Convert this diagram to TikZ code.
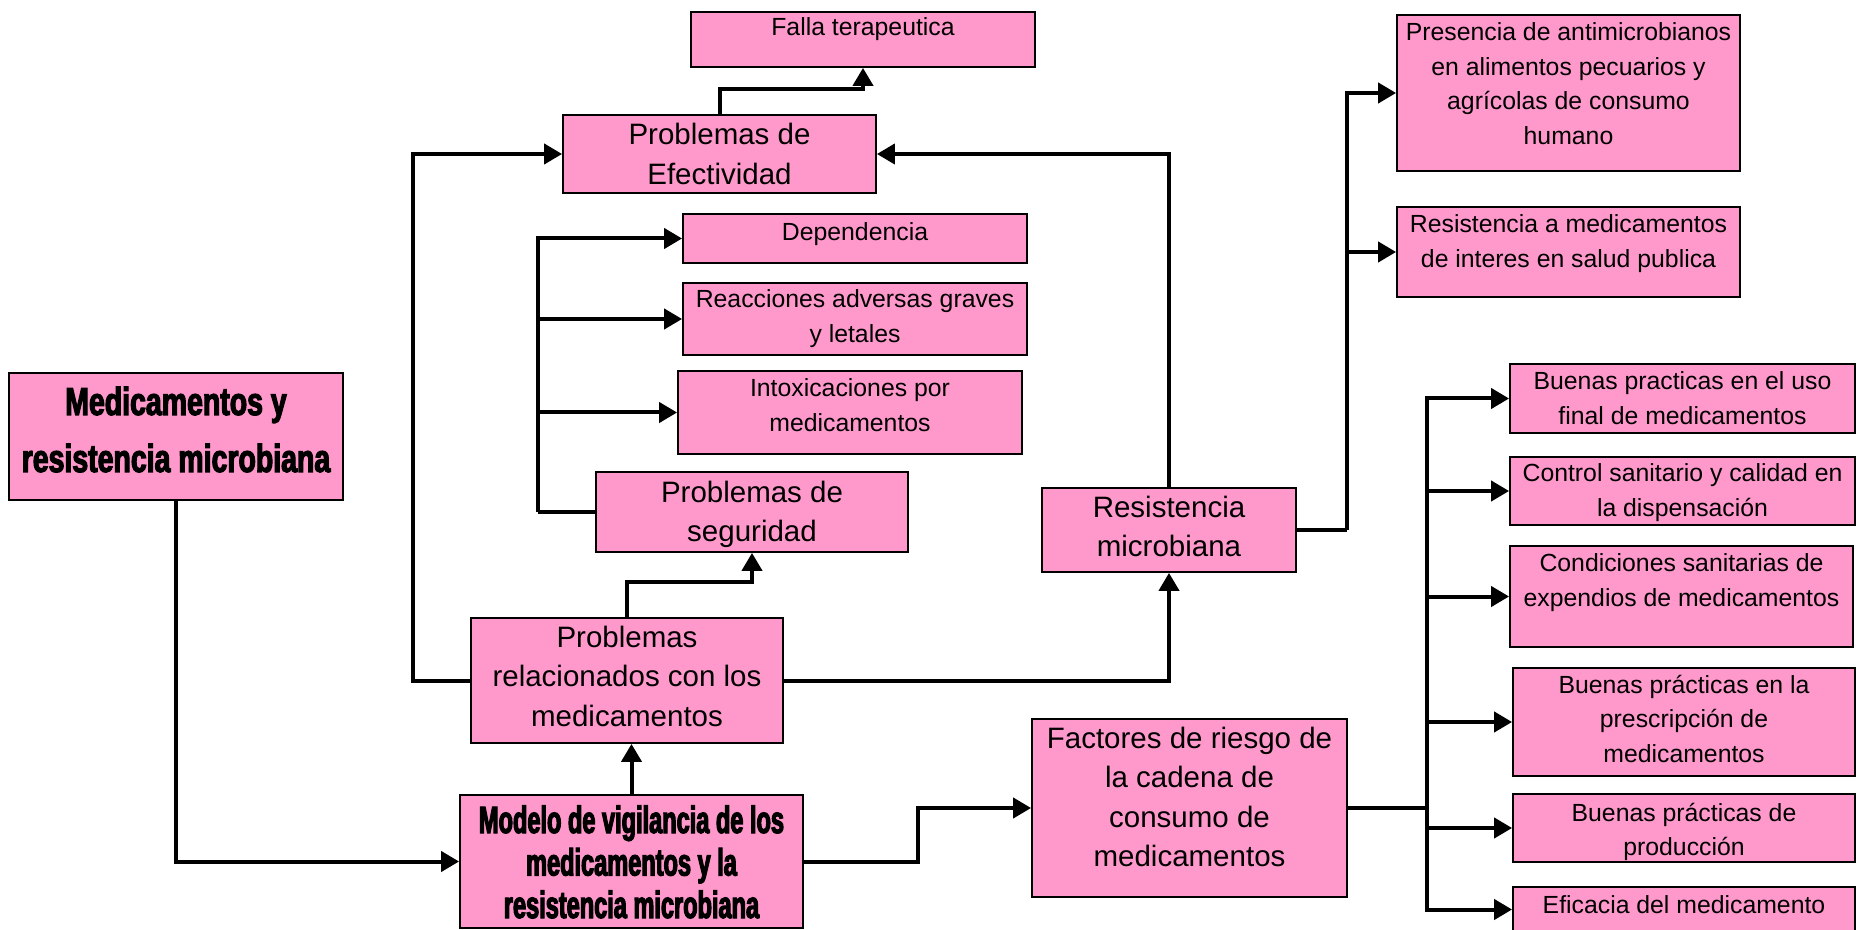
\documentclass[tikz,border=0pt]{standalone}
\usepackage{fontspec}
\setmainfont{Liberation Sans}
\newfontfamily\impA[FakeStretch=0.73,FakeBold=3]{Liberation Sans}
\newfontfamily\impB[FakeStretch=0.62,FakeBold=3]{Liberation Sans}
\usetikzlibrary{arrows.meta,fit}
\definecolor{boxpink}{RGB}{255,153,204}
\begin{document}
\begin{tikzpicture}[x=0.5pt,y=-0.5pt,
  box/.style={draw=black, line width=0.9pt, fill=boxpink, inner sep=0pt},
  arr/.style={line width=2pt, -{Triangle[length=9pt,width=10pt]}},
  ln/.style={line width=2pt},
  sm/.style={font=\fontsize{12.4}{17.25}\selectfont, align=center, inner sep=0pt, anchor=base},
  lg/.style={font=\fontsize{14.75}{19.75}\selectfont, align=center, inner sep=0pt, anchor=base},
  bigA/.style={font=\impA\bfseries\fontsize{19.5}{28.5}\selectfont, align=center, inner sep=0pt, anchor=base},
  bigB/.style={font=\impB\bfseries\fontsize{19}{21.25}\selectfont, align=center, inner sep=0pt, anchor=base}]
\useasboundingbox (0,0) rectangle (1864,930);

% boxes
\node[box, fit={(9,373) (343,500)}] (medres) {};
\node[box, fit={(460,795) (803,928)}] (modelo) {};
\node[box, fit={(691,12) (1035,67)}] (falla) {};
\node[box, fit={(563,115) (876,193)}] (efec) {};
\node[box, fit={(683,214) (1027,263)}] (dep) {};
\node[box, fit={(683,283) (1027,355)}] (reac) {};
\node[box, fit={(678,371) (1022,454)}] (intox) {};
\node[box, fit={(596,472) (908,552)}] (seg) {};
\node[box, fit={(471,618) (783,743)}] (prm) {};
\node[box, fit={(1042,488) (1296,572)}] (resmic) {};
\node[box, fit={(1397,15) (1740,171)}] (pres) {};
\node[box, fit={(1397,207) (1740,297)}] (resmed) {};
\node[box, fit={(1510,364) (1855,433)}] (bpa) {};
\node[box, fit={(1510,457) (1855,525)}] (bpb) {};
\node[box, fit={(1510,546) (1853,647)}] (bpc) {};
\node[box, fit={(1032,719) (1347,897)}] (fact) {};
\node[box, fit={(1513,668) (1855,776)}] (bpd) {};
\node[box, fit={(1513,794) (1855,862)}] (bpe) {};
\node[box, fit={(1513,887) (1855,932)}] (bpf) {};

% texts (anchor = baseline of the last line)
\node[bigA] (medres-t) at (176,472) {Medicamentos y\\resistencia microbiana};
\node[bigB] (modelo-t) at (631.5,918) {Modelo de vigilancia de los\\medicamentos y la\\resistencia microbiana};
\node[sm] (falla-t) at (863,36) {Falla terapeutica};
\node[lg] (efec-t) at (719.5,184.5) {Problemas de\\Efectividad};
\node[sm] (dep-t) at (855,241) {Dependencia};
\node[sm] (reac-t) at (855,342.5) {Reacciones adversas graves\\y letales};
\node[sm] (intox-t) at (850,431.5) {Intoxicaciones por\\medicamentos};
\node[lg] (seg-t) at (752,541.5) {Problemas de\\seguridad};
\node[lg] (prm-t) at (627,726) {Problemas\\relacionados con los\\medicamentos};
\node[lg] (resmic-t) at (1169,556.5) {Resistencia\\microbiana};
\node[sm] (pres-t) at (1568.5,144.5) {Presencia de antimicrobianos\\en alimentos pecuarios y\\agrícolas de consumo\\humano};
\node[sm] (resmed-t) at (1568.5,267.5) {Resistencia a medicamentos\\de interes en salud publica};
\node[sm] (bpa-t) at (1682.5,424.5) {Buenas practicas en el uso\\final de medicamentos};
\node[sm] (bpb-t) at (1682.5,516.5) {Control sanitario y calidad en\\la dispensación};
\node[sm] (bpc-t) at (1681.5,606.5) {Condiciones sanitarias de\\expendios de medicamentos};
\node[lg] (fact-t) at (1189.5,866.5) {Factores de riesgo de\\la cadena de\\consumo de\\medicamentos};
\node[sm] (bpd-t) at (1684,762) {Buenas prácticas en la\\prescripción de\\medicamentos};
\node[sm] (bpe-t) at (1684,855.5) {Buenas prácticas de\\producción};
\node[sm] (bpf-t) at (1684,913) {Eficacia del medicamento};

% connectors
\draw[arr] (medres.south) |- (modelo.west);
\draw[arr] (modelo.north) -- (modelo.north |- prm.south);
\draw[arr] (prm.north) -- ++(0,-35) -| (seg.south);
\draw[arr] (prm.west) -- ++(-57,0) |- (efec.west);
\draw[arr] (prm.east) -| (resmic.south);
\draw[arr] (resmic.north) |- (efec.east);
\draw[arr] (efec.north) -- ++(0,-25) -| (falla.south);

\draw[ln] (resmic.east) -- ++(50,0) coordinate (rbar);
\draw[arr] (rbar) |- (pres.west);
\draw[arr] (rbar) |- (resmed.west);

\draw[ln] (seg.west) -- ++(-57,0) coordinate (sbar);
\draw[arr] (sbar) |- (dep.west);
\draw[arr] (sbar) |- (reac.west);
\draw[arr] (sbar) |- (intox.west);

\draw[arr] (modelo.east) -- ++(114,0) |- (fact.west);

\draw[ln] (fact.east) -- ++(79,0) coordinate (fbar);
\draw[arr] (fbar) |- (bpa.west);
\draw[arr] (fbar) |- (bpb.west);
\draw[arr] (fbar) |- (bpc.west);
\draw[arr] (fbar) |- (bpd.west);
\draw[arr] (fbar) |- (bpe.west);
\draw[arr] (fbar) |- (bpf.west);
\end{tikzpicture}
\end{document}
